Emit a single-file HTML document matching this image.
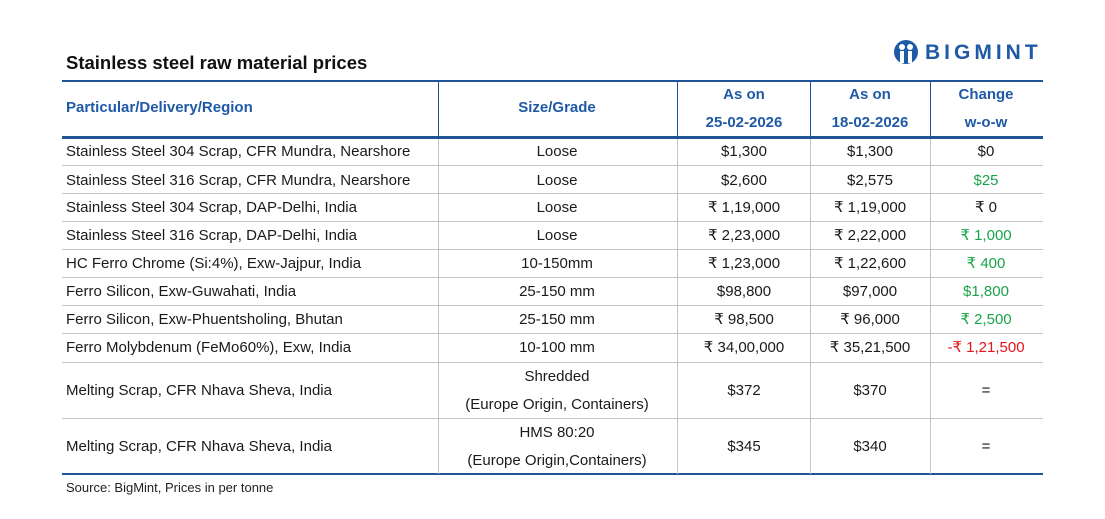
<!DOCTYPE html>
<html><head><meta charset="utf-8">
<style>
body{margin:0;width:1105px;height:519px;background:#fff;position:relative;font-family:"Liberation Sans",sans-serif;overflow:hidden}
.a{position:absolute}
.t{position:absolute;font-size:15px;color:#1a1a1a;white-space:nowrap;line-height:18px}
.h{position:absolute;font-size:15px;font-weight:bold;color:#1f5aa6;white-space:nowrap;line-height:18px;text-align:center}
.c{text-align:center;transform:translateX(-50%)}
.hl{position:absolute;left:62px;width:981px;height:1px;background:#c4c4c4}
.vl{position:absolute;width:1px;background:#c4c4c4}
.g{color:#1aa34a}.r{color:#e3141b}
</style></head><body>
<div class="a" style="left:66px;top:52px;font-size:18.5px;font-weight:bold;color:#111">Stainless steel raw material prices</div>
<div class="a" style="left:893px;top:38px;height:30px;display:flex;align-items:center">
<svg width="26" height="28" viewBox="0 0 26 28"><circle cx="13" cy="13" r="12" fill="#1f5aa6"/><circle cx="9" cy="8" r="3" fill="#fff"/><circle cx="17" cy="8" r="3" fill="#fff"/><rect x="7" y="12" width="4" height="12" fill="#fff"/><rect x="15" y="12" width="4" height="12" fill="#fff"/></svg>
<span style="margin-left:6px;font-size:21px;font-weight:bold;color:#1f5aa6;letter-spacing:4px">BIGMINT</span></div>

<div class="a" style="left:62px;top:80px;width:981px;height:2px;background:#1f5597"></div>
<div class="a" style="left:62px;top:136px;width:981px;height:3px;background:#1f5597"></div>
<div class="a" style="left:62px;top:473px;width:981px;height:2px;background:#1f5597"></div>
<div class="a" style="left:438px;top:81px;width:1px;height:56px;background:#1f5597"></div>
<div class="a" style="left:677px;top:81px;width:1px;height:56px;background:#1f5597"></div>
<div class="a" style="left:810px;top:81px;width:1px;height:56px;background:#1f5597"></div>
<div class="a" style="left:930px;top:81px;width:1px;height:56px;background:#1f5597"></div>

<div class="h" style="left:66px;top:99px;text-align:left">Particular/Delivery/Region</div>
<div class="h c" style="left:557px;top:99px">Size/Grade</div>
<div class="h c" style="left:744px;top:81px;line-height:28px">As on<br>25-02-2026</div>
<div class="h c" style="left:870px;top:81px;line-height:28px">As on<br>18-02-2026</div>
<div class="h c" style="left:986px;top:81px;line-height:28px">Change<br>w-o-w</div>

<div class="vl" style="left:438px;top:139px;height:335px"></div>
<div class="vl" style="left:677px;top:139px;height:335px"></div>
<div class="vl" style="left:810px;top:139px;height:335px"></div>
<div class="vl" style="left:930px;top:139px;height:335px"></div>
<div class="hl" style="top:165px"></div><div class="hl" style="top:193px"></div><div class="hl" style="top:221px"></div><div class="hl" style="top:249px"></div><div class="hl" style="top:277px"></div><div class="hl" style="top:305px"></div><div class="hl" style="top:333px"></div><div class="hl" style="top:362px"></div><div class="hl" style="top:418px"></div>

<div id="rows"></div>
<script>
const names=["Stainless Steel 304 Scrap, CFR Mundra, Nearshore","Stainless Steel 316 Scrap, CFR Mundra, Nearshore","Stainless Steel 304 Scrap, DAP-Delhi, India","Stainless Steel 316 Scrap, DAP-Delhi, India","HC Ferro Chrome (Si:4%), Exw-Jajpur, India","Ferro Silicon, Exw-Guwahati, India","Ferro Silicon, Exw-Phuentsholing, Bhutan","Ferro Molybdenum (FeMo60%), Exw, India","Melting Scrap, CFR Nhava Sheva, India","Melting Scrap, CFR Nhava Sheva, India"];
const grades=["Loose","Loose","Loose","Loose","10-150mm","25-150 mm","25-150 mm","10-100 mm","Shredded<br>(Europe Origin, Containers)","HMS 80:20<br>(Europe Origin,Containers)"];
const cur=["$1,300","$2,600","₹ 1,19,000","₹ 2,23,000","₹ 1,23,000","$98,800","₹ 98,500","₹ 34,00,000","$372","$345"];
const prev=["$1,300","$2,575","₹ 1,19,000","₹ 2,22,000","₹ 1,22,600","$97,000","₹ 96,000","₹ 35,21,500","$370","$340"];
const chg=["$0","$25","₹ 0","₹ 1,000","₹ 400","$1,800","₹ 2,500","-₹ 1,21,500","=","="];
const chgCls=["","g","","g","g","g","g","r","",""];
const centers=[143,172,199,227,255,283,311,339,382,438];
const root=document.getElementById('rows');
function mk(cls,left,top,html,name){const d=document.createElement('div');d.className=cls;d.style.left=left+'px';d.style.top=top+'px';d.innerHTML=html;


root.appendChild(d);return d;}
names.forEach((n,i)=>{const y=centers[i];const tall=i>=8;
mk('t',66,y,n,'row-'+(i+1)+'-particular');
const g=mk('t c',557,tall?y-19:y,grades[i],'row-'+(i+1)+'-grade');if(tall)g.style.lineHeight='28px';
mk('t c',744,y,cur[i],'row-'+(i+1)+'-price-current');
mk('t c',870,y,prev[i],'row-'+(i+1)+'-price-previous');
mk('t c '+chgCls[i],986,y,chg[i],'row-'+(i+1)+'-change');});
</script>
<div class="a" style="left:66px;top:480px;font-size:13px;color:#222">Source: BigMint, Prices in per tonne</div>
</body></html>
